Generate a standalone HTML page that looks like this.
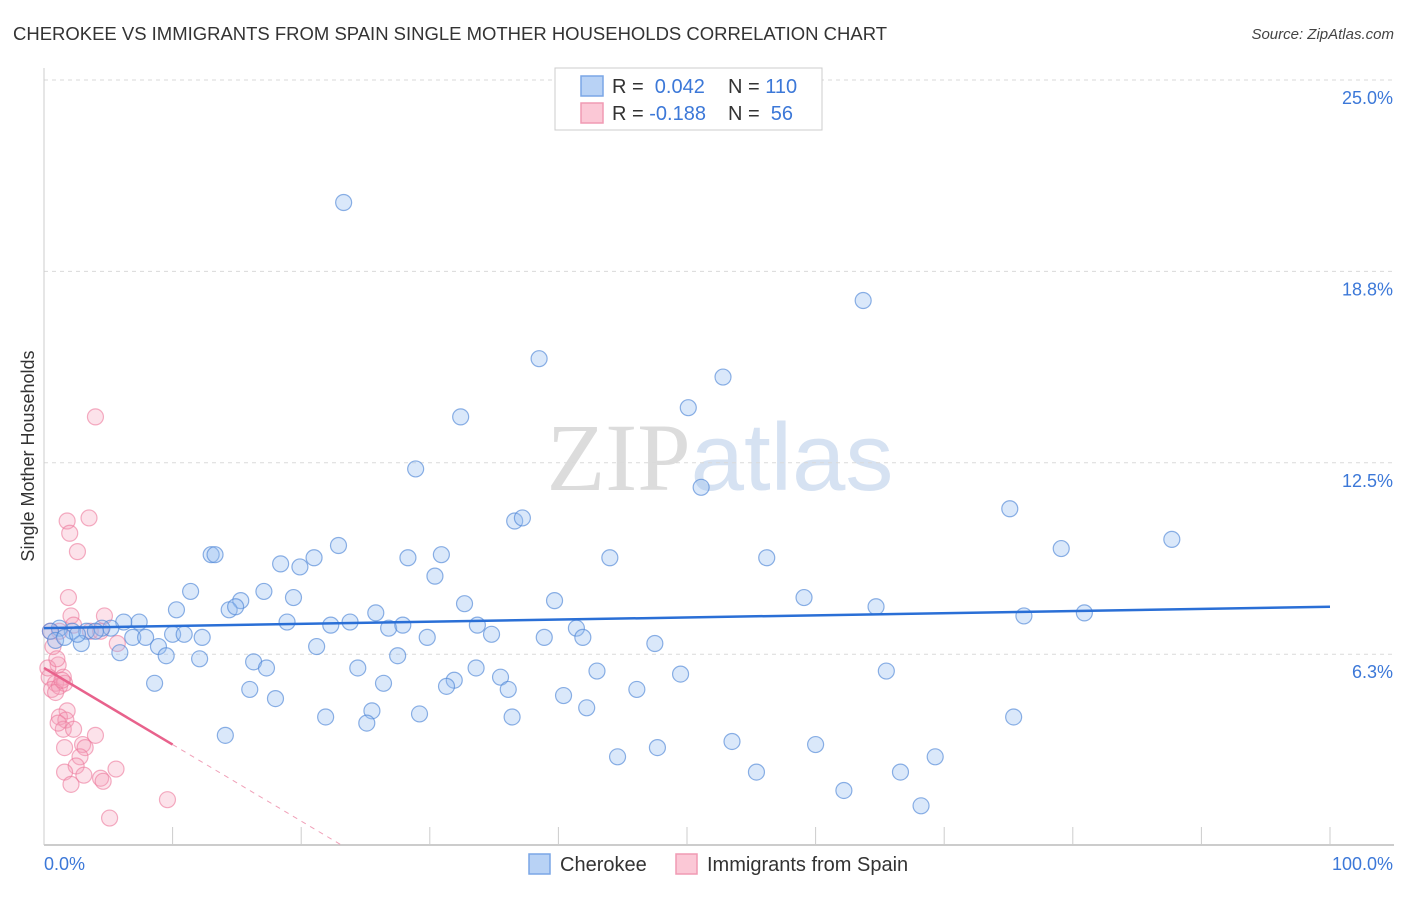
<!DOCTYPE html>
<html><head><meta charset="utf-8"><style>
body{margin:0;background:#fff;font-family:"Liberation Sans",sans-serif}
svg text{font-family:"Liberation Sans",sans-serif}
</style></head><body>
<svg id="chart" width="1406" height="892" viewBox="0 0 1406 892" xmlns="http://www.w3.org/2000/svg">
<text x="13" y="40" font-size="18" fill="#333" textLength="874" lengthAdjust="spacingAndGlyphs">CHEROKEE VS IMMIGRANTS FROM SPAIN SINGLE MOTHER HOUSEHOLDS CORRELATION CHART</text>
<text x="1394" y="39" font-size="15" fill="#444" font-style="italic" text-anchor="end">Source: ZipAtlas.com</text>
<text x="720" y="490" font-size="96" text-anchor="middle" fill="#e4e4e4"><tspan font-family="Liberation Serif" fill="#dcdcdc">ZIP</tspan><tspan fill="#d6e2f2">atlas</tspan></text>
<g id="grid"></g>
<g id="axes"></g>
<g id="pinkpts"></g>
<g id="bluepts"></g>
<g id="trends"></g>
<text transform="translate(34,456) rotate(-90)" font-size="18" fill="#333" text-anchor="middle">Single Mother Households</text>
<g>
<rect x="555" y="68" width="267" height="62" fill="#fff" stroke="#ccc"/>
<rect x="581" y="76" width="22" height="20" fill="#b8d2f5" stroke="#7aa6e6" stroke-width="1.5"/>
<rect x="581" y="103" width="22" height="20" fill="#fbc8d6" stroke="#f09ab4" stroke-width="1.5"/>
<text x="612" y="93" font-size="20" fill="#333">R = <tspan fill="#3c78d8">&#160;0.042</tspan></text>
<text x="728" y="93" font-size="20" fill="#333">N = <tspan fill="#3c78d8">110</tspan></text>
<text x="612" y="120" font-size="20" fill="#333">R = <tspan fill="#3c78d8">-0.188</tspan></text>
<text x="728" y="120" font-size="20" fill="#333">N = <tspan fill="#3c78d8">&#160;56</tspan></text>
</g>
<g>
<rect x="529" y="854" width="21" height="20" fill="#b8d2f5" stroke="#7aa6e6" stroke-width="1.5"/>
<text x="560" y="871" font-size="20" fill="#333">Cherokee</text>
<rect x="676" y="854" width="21" height="20" fill="#fbc8d6" stroke="#f09ab4" stroke-width="1.5"/>
<text x="707" y="871" font-size="20" fill="#333">Immigrants from Spain</text>
</g>
</svg>
<script>
const yTicks=[25.0,18.75,12.5,6.25];
const yTickLabels=["25.0%","18.8%","12.5%","6.3%"];
const xTickVals=[0,10,20,30,40,50,60,70,80,90,100];
const blueX=[23.3,63.7,38.5,52.8,50.1,32.4,28.9,51.1,36.6,37.2,75.1,87.7,79.1,13.0,13.3,18.4,19.9,21.0,22.9,28.3,30.9,44.0,56.2,30.4,11.4,17.1,19.4,15.3,14.4,14.9,10.3,32.7,39.7,59.1,64.7,76.2,80.9,25.8,18.9,22.3,23.8,26.8,27.9,33.7,41.4,34.8,41.9,38.9,47.5,29.8,7.4,6.2,5.2,4.5,3.3,2.2,1.2,0.5,0.9,2.9,6.9,7.9,10.0,10.9,12.3,21.2,8.9,9.5,5.9,12.1,27.5,16.3,17.3,24.4,33.6,35.5,43.0,49.5,65.5,31.9,26.4,31.3,36.1,46.1,8.6,16.0,18.0,40.4,42.2,25.5,29.2,36.4,21.9,25.1,75.4,14.1,47.7,53.5,60.0,44.6,69.3,55.4,66.6,62.2,68.2,1.6,2.6,4.0,48.3];
const blueY=[21.0,17.8,15.9,15.3,14.3,14.0,12.3,11.7,10.6,10.7,11.0,10.0,9.7,9.5,9.5,9.2,9.1,9.4,9.8,9.4,9.5,9.4,9.4,8.8,8.3,8.3,8.1,8.0,7.7,7.8,7.7,7.9,8.0,8.1,7.8,7.5,7.6,7.6,7.3,7.2,7.3,7.1,7.2,7.2,7.1,6.9,6.8,6.8,6.6,6.8,7.3,7.3,7.1,7.1,7.0,7.0,7.1,7.0,6.7,6.6,6.8,6.8,6.9,6.9,6.8,6.5,6.5,6.2,6.3,6.1,6.2,6.0,5.8,5.8,5.8,5.5,5.7,5.6,5.7,5.4,5.3,5.2,5.1,5.1,5.3,5.1,4.8,4.9,4.5,4.4,4.3,4.2,4.2,4.0,4.2,3.6,3.2,3.4,3.3,2.9,2.9,2.4,2.4,1.8,1.3,6.8,6.9,7.0,25.0];
const pinkX=[4.0,3.5,1.8,2.0,2.6,1.9,2.1,4.7,2.3,1.2,0.5,5.7,0.7,1.1,0.4,1.5,0.9,0.6,1.2,1.6,0.9,1.8,1.2,1.7,1.5,2.3,4.0,3.0,3.2,1.6,2.8,2.5,5.6,1.6,3.1,4.4,4.6,2.1,9.6,5.1,0.3,1.0,1.4,1.1,3.6,4.4];
const pinkY=[14.0,10.7,10.6,10.2,9.6,8.1,7.5,7.5,7.2,7.0,7.0,6.6,6.5,5.9,5.5,5.5,5.3,5.1,5.2,5.3,5.0,4.4,4.2,4.1,3.8,3.8,3.6,3.3,3.2,3.2,2.9,2.6,2.5,2.4,2.3,2.2,2.1,2.0,1.5,0.9,5.8,6.1,5.4,4.0,7.0,7.0];
const blueTrend=[7.1,7.8];
const pinkTrend=[5.8,3.3];
const NS="http://www.w3.org/2000/svg";
const X0=44,X1=1330,Y0=845.6,Y25=80;
function sx(v){return X0+(X1-X0)*v/100;}
function sy(v){return Y0-(Y0-Y25)*v/25;}
function mk(tag,attrs,parent){const e=document.createElementNS(NS,tag);for(const k in attrs)e.setAttribute(k,attrs[k]);document.getElementById(parent).appendChild(e);return e;}
yTicks.forEach((t,i)=>{
 const l=mk('line',{x1:X0,x2:1394,y1:sy(t),y2:sy(t),stroke:'#dadada','stroke-dasharray':'4,4'},'grid');
 
 
 const tx=mk('text',{x:1393,y:sy(t)+24,'font-size':18,fill:'#3c78d8','text-anchor':'end'},'grid');
 
 
 tx.textContent=yTickLabels[i];
});
const ax=mk('line',{x1:X0,x2:1394,y1:845,y2:845,stroke:'#bbb','stroke-width':1.5},'axes');


const ay=mk('line',{x1:X0,x2:X0,y1:68,y2:845,stroke:'#ccc'},'axes');


xTickVals.forEach(v=>{
 const t=mk('line',{x1:sx(v),x2:sx(v),y1:827,y2:845,stroke:'#ccc'},'axes');
 
 
});
const xl0=mk('text',{x:44,y:870,'font-size':18,fill:'#3c78d8'},'axes');


xl0.textContent='0.0%';
const xl1=mk('text',{x:1393,y:870,'font-size':18,fill:'#3c78d8','text-anchor':'end'},'axes');


xl1.textContent='100.0%';
pinkX.forEach((x,i)=>{
 const c=mk('circle',{cx:sx(x),cy:sy(pinkY[i]),r:8,fill:'rgba(246,160,186,0.3)',stroke:'rgba(236,120,155,0.6)','stroke-width':1.2},'pinkpts');
 
 
});
blueX.forEach((x,i)=>{
 const c=mk('circle',{cx:sx(x),cy:sy(blueY[i]),r:8,fill:'rgba(150,190,240,0.35)',stroke:'rgba(80,135,215,0.65)','stroke-width':1.2},'bluepts');
 
 
});
const bt=mk('line',{x1:sx(0),y1:sy(blueTrend[0]),x2:sx(100),y2:sy(blueTrend[1]),stroke:'#2a6fd6','stroke-width':2.5},'trends');


const slope=(pinkTrend[1]-pinkTrend[0])/10;
const xz=-pinkTrend[0]/slope;
const pt=mk('line',{x1:sx(0),y1:sy(pinkTrend[0]),x2:sx(10),y2:sy(pinkTrend[1]),stroke:'#e8628c','stroke-width':2.5},'trends');


const pd=mk('line',{x1:sx(10),y1:sy(pinkTrend[1]),x2:sx(xz),y2:sy(0),stroke:'#f0a0b8','stroke-width':1,'stroke-dasharray':'5,5'},'trends');


</script>
</body></html>
